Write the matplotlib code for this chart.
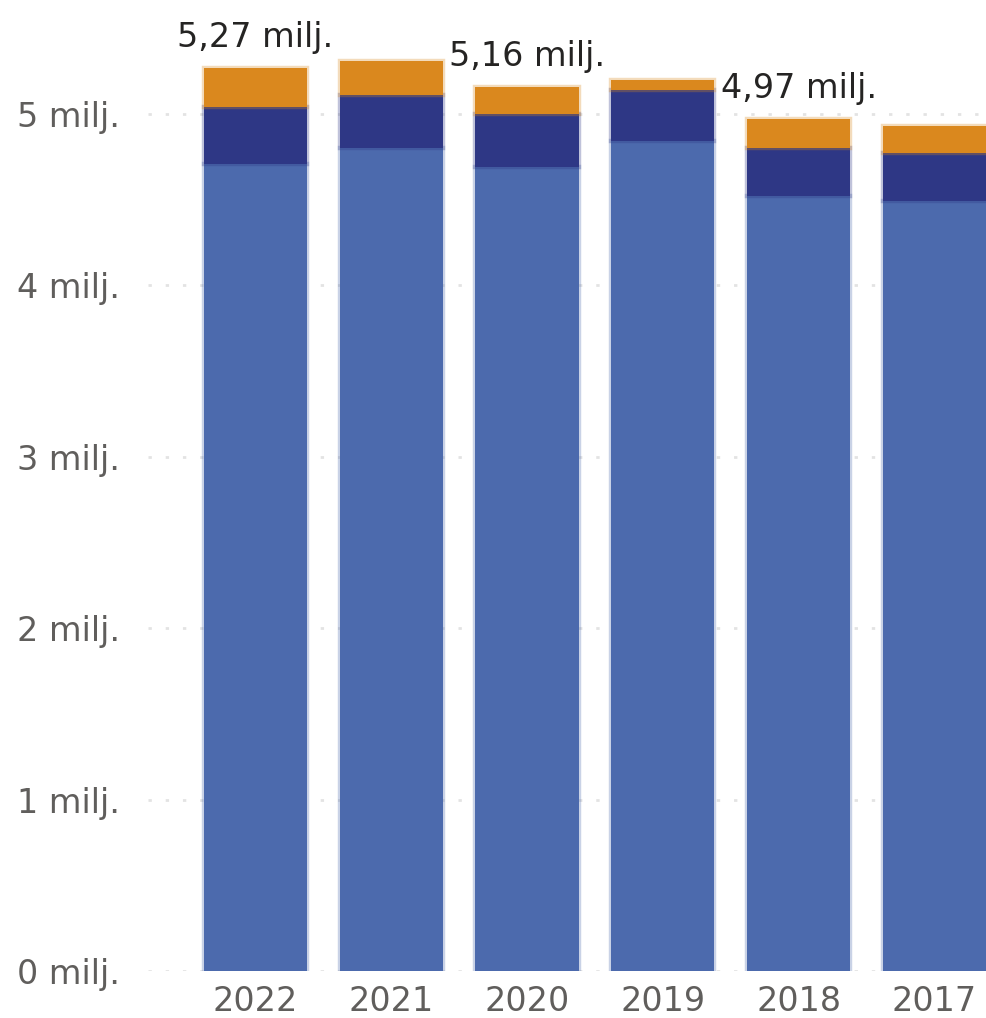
import matplotlib.pyplot as plt
from matplotlib.colors import to_rgba
from matplotlib.ticker import FixedLocator

# values (millions)
years = ["2022", "2021", "2020", "2019", "2018", "2017"]
part_a = [4.71, 4.80, 4.69, 4.84, 4.52, 4.49]
part_b = [0.33, 0.31, 0.31, 0.30, 0.28, 0.28]
part_c = [0.23, 0.20, 0.16, 0.06, 0.17, 0.16]
total_labels = ["5,27 milj.", None, "5,16 milj.", None, "4,97 milj.", None]
y_ticks = [0, 1, 2, 3, 4, 5]

col_a = "#4C6AAD"
col_b = "#2E3785"
col_c = "#DA881E"
txt_grey = "#605E5C"

fig = plt.figure(figsize=(9.86, 10.18), dpi=100)
ax = fig.add_axes([148 / 986, 47 / 1018, 838 / 986, 971 / 1018])

x = list(range(len(years)))
w = 0.76
bottom_b = part_a
bottom_c = [a + b for a, b in zip(part_a, part_b)]
totals = [a + b + c for a, b, c in zip(part_a, part_b, part_c)]

for vals, bot, col in [(part_a, None, col_a), (part_b, bottom_b, col_b), (part_c, bottom_c, col_c)]:
    # translucent outline of the same colour gives the soft edge / darker seam
    ax.bar(x, vals, width=w, bottom=bot, color=col,
           edgecolor=to_rgba(col, 0.3), linewidth=3.2, zorder=3)

for i, lab in enumerate(total_labels):
    if lab:
        ax.annotate(lab, (x[i], totals[i]), xytext=(0, 15), textcoords="offset points",
                    ha="center", va="baseline", fontsize=24, color="#252423")

ax.set_xlim(-0.792, 5.38)
ax.set_ylim(0, 971 / 171.4)
ax.yaxis.set_major_locator(FixedLocator(y_ticks))
ax.set_yticklabels([f"{t} milj." for t in y_ticks])
ax.set_xticks(x)
ax.set_xticklabels(years)
ax.tick_params(axis="both", length=0, labelsize=24, labelcolor=txt_grey)
ax.tick_params(axis="x", pad=10)
ax.tick_params(axis="y", pad=20)
for lbl in ax.get_yticklabels():
    lbl.set_verticalalignment("center_baseline")

ax.grid(axis="y", color="#E3E3E3", linewidth=2, linestyle=(0, (1.2, 5)), zorder=0)
ax.set_axisbelow(True)
for s in ax.spines.values():
    s.set_visible(False)

fig.savefig("out.png", dpi=100)
